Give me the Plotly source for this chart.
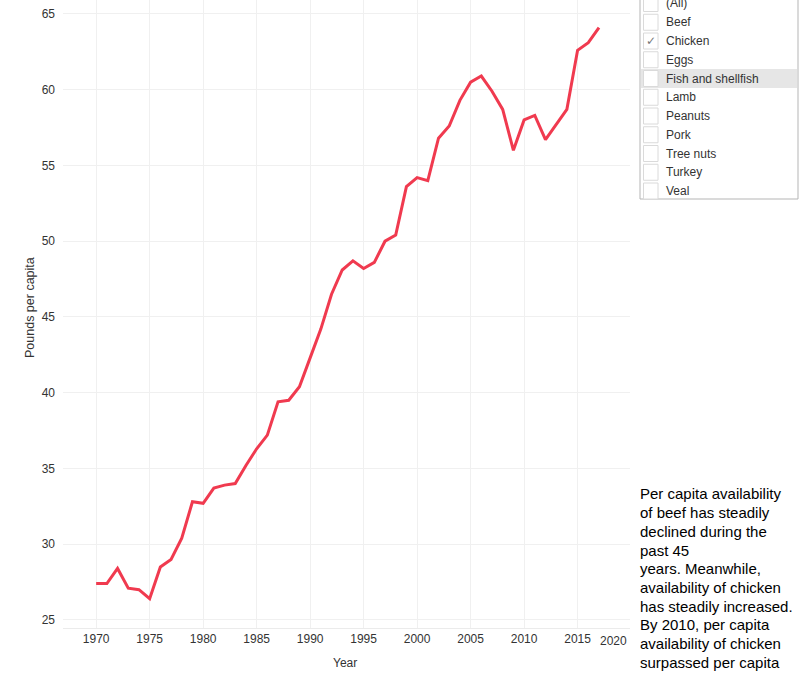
import plotly.graph_objects as go

years = list(range(1970, 2018))
chicken = [27.4, 27.4, 28.4, 27.1, 27.0, 26.4, 28.5, 29.0, 30.4, 32.8,
           32.7, 33.7, 33.9, 34.0, 35.2, 36.3, 37.2, 39.4, 39.5, 40.4,
           42.3, 44.2, 46.5, 48.1, 48.7, 48.2, 48.6, 50.0, 50.4, 53.6,
           54.2, 54.0, 56.8, 57.6, 59.3, 60.5, 60.9, 59.9, 58.7, 56.0,
           58.0, 58.3, 56.7, 57.7, 58.7, 62.6, 63.1, 64.1]

x_ticks = [1970, 1975, 1980, 1985, 1990, 1995, 2000, 2005, 2010, 2015]
y_ticks = [25, 30, 35, 40, 45, 50, 55, 60, 65]

filter_items = ["(All)", "Beef", "Chicken", "Eggs", "Fish and shellfish", "Lamb",
                "Peanuts", "Pork", "Tree nuts", "Turkey", "Veal"]
checked = ["Chicken"]
highlighted = ["Fish and shellfish"]

note_lines = ["Per capita availability", "of beef has steadily", "declined during the",
              "past 45", "years. Meanwhile,", "availability of chicken",
              "has steadily increased.", "By 2010, per capita",
              "availability of chicken", "surpassed per capita"]

W, H = 799, 673
ML, MR, MT, MB = 63, 169, 0, 45
PW, PH = W - ML - MR, H - MT - MB


def px(x):
    return (x - ML) / PW


def py(y):
    return (H - MB - y) / PH


FONT = "Liberation Sans, Arial, Helvetica"

fig = go.Figure()
fig.add_trace(go.Scatter(x=years, y=chicken, mode="lines",
                         line=dict(color="#F03A4F", width=3), hoverinfo="x+y",
                         showlegend=False))

shapes = []
annotations = []

# filter panel
panel_left, panel_right, panel_bottom, panel_top = 640, 798, 199, -10
shapes.append(dict(type="rect", xref="paper", yref="paper",
                   x0=px(panel_left), x1=px(panel_right), y0=py(panel_bottom), y1=py(panel_top),
                   fillcolor="white", line=dict(color="#B5B5B5", width=1), layer="above"))
row0, rstep = 3.5, 18.75
for i, item in enumerate(filter_items):
    cy = row0 + i * rstep
    if item in highlighted:
        shapes.append(dict(type="rect", xref="paper", yref="paper",
                           x0=px(641), x1=px(797), y0=py(cy + 9.4), y1=py(cy - 9.4),
                           fillcolor="#E6E6E6", line=dict(width=0), layer="above"))
    shapes.append(dict(type="rect", xref="paper", yref="paper",
                       x0=px(643.5), x1=px(658), y0=py(cy + 8), y1=py(cy - 8),
                       fillcolor="white", line=dict(color="#DADADA", width=1), layer="above"))
    if item in checked:
        annotations.append(dict(text="✓", xref="paper", yref="paper", x=px(651), y=py(cy),
                                xanchor="center", yanchor="middle", showarrow=False,
                                font=dict(family="DejaVu Sans", size=12, color="#777777")))
    annotations.append(dict(text=item, xref="paper", yref="paper", x=px(664), y=py(cy),
                            xanchor="left", yanchor="middle", showarrow=False,
                            font=dict(family=FONT, size=12, color="#333333")))

# note text
for i, line in enumerate(note_lines):
    cy = 494 + i * 18.7
    annotations.append(dict(text=line, xref="paper", yref="paper", x=px(638), y=py(cy),
                            xanchor="left", yanchor="middle", showarrow=False,
                            font=dict(family=FONT, size=15, color="#000000")))

# clamped last tick label
annotations.append(dict(text="2020", xref="paper", yref="paper", x=px(613), y=py(641),
                        xanchor="center", yanchor="middle", showarrow=False,
                        font=dict(family=FONT, size=12, color="#333333")))
# axis titles
annotations.append(dict(text="Year", xref="paper", yref="paper", x=px(345), y=py(663),
                        xanchor="center", yanchor="middle", showarrow=False,
                        font=dict(family=FONT, size=12, color="#333333")))
annotations.append(dict(text="Pounds per capita", xref="paper", yref="paper", x=px(30), y=py(308),
                        xanchor="center", yanchor="middle", showarrow=False, textangle=-90,
                        font=dict(family=FONT, size=12.5, color="#333333")))

fig.update_layout(
    width=W, height=H,
    margin=dict(l=ML, r=MR, t=MT, b=MB, pad=0),
    paper_bgcolor="white", plot_bgcolor="white",
    xaxis=dict(range=[1966.9, 2019.9], tickvals=x_ticks, ticktext=[str(v) for v in x_ticks],
               showgrid=True, gridcolor="#F0F0F0", gridwidth=1, zeroline=False,
               showline=True, linecolor="#EBEBEB", linewidth=1, ticks="",
               tickfont=dict(family=FONT, size=12, color="#333333")),
    yaxis=dict(range=[24.47, 65.92], tickvals=y_ticks, ticktext=[str(v) for v in y_ticks],
               showgrid=True, gridcolor="#F0F0F0", gridwidth=1, zeroline=False,
               showline=False, ticks="", ticklabelstandoff=7,
               tickfont=dict(family=FONT, size=12, color="#333333")),
    shapes=shapes,
    annotations=annotations,
    showlegend=False,
)

fig.write_html("out.html", config={"displayModeBar": False},
               post_script="document.body.style.margin='0px';document.body.style.overflow='hidden';")
